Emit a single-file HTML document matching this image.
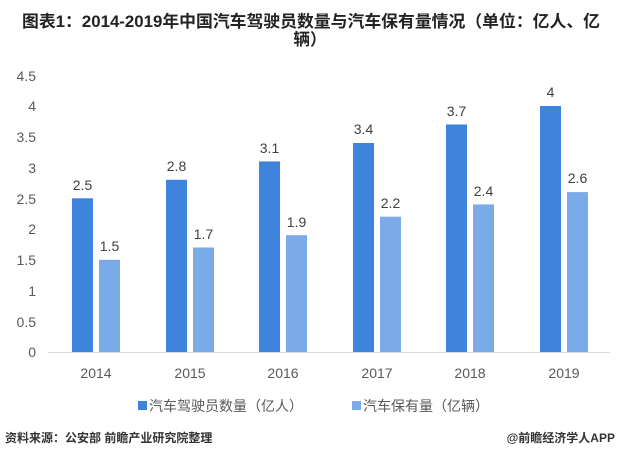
<!DOCTYPE html>
<html><head><meta charset="utf-8"><style>
body{margin:0;width:620px;height:461px;background:#fff;overflow:hidden;font-family:"Liberation Sans","Noto Sans CJK SC",sans-serif;}
</style></head><body>
<svg width="620" height="461" xmlns="http://www.w3.org/2000/svg" font-family="Liberation Sans, Noto Sans CJK SC, sans-serif">
<text x="311" y="27" text-anchor="middle" font-size="16.5" font-weight="bold" fill="#222" textLength="578" lengthAdjust="spacingAndGlyphs">图表1：2014-2019年中国汽车驾驶员数量与汽车保有量情况（单位：亿人、亿</text>
<text x="310" y="45" text-anchor="middle" font-size="16.5" font-weight="bold" fill="#222">辆）</text>
<g font-size="14" fill="#595959" text-anchor="end">
<text x="36" y="81">4.5</text><text x="36" y="111">4</text><text x="36" y="142">3.5</text><text x="36" y="173">3</text><text x="36" y="204">2.5</text><text x="36" y="234">2</text><text x="36" y="265">1.5</text><text x="36" y="296">1</text><text x="36" y="327">0.5</text><text x="36" y="357">0</text>
</g>
<line x1="48" y1="352.5" x2="610" y2="352.5" stroke="#d9d9d9"/>
<g font-size="14" fill="#595959" text-anchor="middle">
<text x="96" y="378">2014</text><text x="190" y="378">2015</text><text x="283" y="378">2016</text><text x="377" y="378">2017</text><text x="470" y="378">2018</text><text x="564" y="378">2019</text>
</g>
<g>
<rect x="72" y="198.3" width="21" height="153.7" fill="#3f84dc"/><rect x="99" y="259.8" width="21" height="92.2" fill="#7aaae8"/>
<rect x="166" y="179.8" width="21" height="172.2" fill="#3f84dc"/><rect x="193" y="247.5" width="21" height="104.5" fill="#7aaae8"/>
<rect x="259" y="161.4" width="21" height="190.6" fill="#3f84dc"/><rect x="286" y="235.2" width="21" height="116.8" fill="#7aaae8"/>
<rect x="353" y="143" width="21" height="209" fill="#3f84dc"/><rect x="380" y="216.7" width="21" height="135.3" fill="#7aaae8"/>
<rect x="446" y="124.5" width="21" height="227.5" fill="#3f84dc"/><rect x="473" y="204.4" width="21" height="147.6" fill="#7aaae8"/>
<rect x="540" y="106" width="21" height="246" fill="#3f84dc"/><rect x="567" y="192.1" width="21" height="159.9" fill="#7aaae8"/>
</g>
<g font-size="14" fill="#404040" text-anchor="middle">
<text x="82.5" y="190">2.5</text><text x="109.5" y="251">1.5</text>
<text x="176.5" y="171">2.8</text><text x="203.5" y="239">1.7</text>
<text x="269.5" y="153">3.1</text><text x="296.5" y="227">1.9</text>
<text x="363.5" y="134">3.4</text><text x="390.5" y="208">2.2</text>
<text x="456.5" y="116">3.7</text><text x="483.5" y="196">2.4</text>
<text x="550.5" y="97">4</text><text x="577.5" y="183">2.6</text>
</g>
<rect x="138" y="401" width="9" height="9" fill="#3f84dc"/>
<text x="149" y="411" font-size="14" fill="#595959">汽车驾驶员数量（亿人）</text>
<rect x="352" y="401" width="9" height="9" fill="#7aaae8"/>
<text x="363" y="411" font-size="14" fill="#595959">汽车保有量（亿辆）</text>
<text x="5" y="442" font-size="12" font-weight="bold" fill="#333">资料来源：公安部 前瞻产业研究院整理</text>
<text x="615" y="442" font-size="12" font-weight="bold" fill="#333" text-anchor="end">@前瞻经济学人APP</text>
</svg>
</body></html>
